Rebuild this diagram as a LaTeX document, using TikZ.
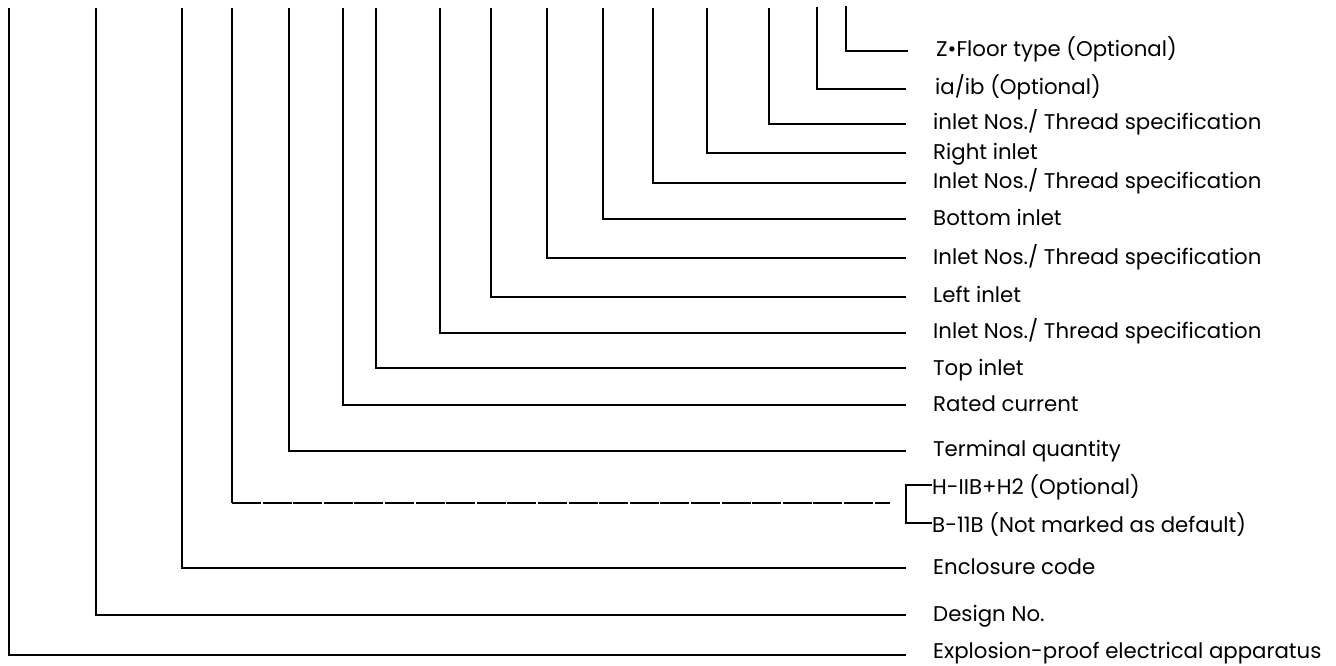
\documentclass[tikz,border=0pt]{standalone}
\usepackage{fontspec}
\setmainfont{Poppins}
\usetikzlibrary{calc}
\begin{document}
\begin{tikzpicture}[x=1pt,y=-1pt,
  lead/.style={line width=1.7pt,black},
  lbl/.style={anchor=base west,inner sep=0pt,font=\fontsize{21.3}{24}\selectfont}]
\useasboundingbox (0,0) rectangle (1336,666);
% labels
\node[lbl] (l16) at (936,57) {Z•Floor type (Optional)};
\node[lbl] (l15) at (935,95) {ia/ib (Optional)};
\node[lbl] (l14) at (933,130) {inlet Nos./ Thread specification};
\node[lbl] (l13) at (933,160) {Right inlet};
\node[lbl] (l12) at (933,189) {Inlet Nos./ Thread specification};
\node[lbl] (l11) at (933,225) {Bottom inlet};
\node[lbl] (l10) at (933,264) {Inlet Nos./ Thread specification};
\node[lbl] (l9) at (933,302) {Left inlet};
\node[lbl] (l8) at (933,338) {Inlet Nos./ Thread specification};
\node[lbl] (l7) at (933,375) {Top inlet};
\node[lbl] (l6) at (933,411) {Rated current};
\node[lbl] (l5) at (933,456) {Terminal quantity};
\node[lbl] (l4a) at (932,494.5) {H-IIB+H2 (Optional)};
\node[lbl] (l4b) at (932,532) {B-11B (Not marked as default)};
\node[lbl] (l3) at (933,574) {Enclosure code};
\node[lbl] (l2) at (933,621) {Design No.};
\node[lbl] (l1) at (933,658.5) {Explosion-proof electrical apparatus};
% top coordinates
\coordinate (t1) at (9,8);
\coordinate (t2) at (96,8);
\coordinate (t3) at (182,8);
\coordinate (t4) at (232,8);
\coordinate (t5) at (289,8);
\coordinate (t6) at (343,8);
\coordinate (t7) at (376,8);
\coordinate (t8) at (440,8);
\coordinate (t9) at (491,8);
\coordinate (t10) at (547,8);
\coordinate (t11) at (603,8);
\coordinate (t12) at (653,8);
\coordinate (t13) at (707,8);
\coordinate (t14) at (769,8);
\coordinate (t15) at (817,7);
\coordinate (t16) at (846,6);
% end coordinates
\coordinate (e16) at (908,51);
\coordinate (e15) at (906,89);
\coordinate (e14) at (906,124);
\coordinate (e13) at (906,153);
\coordinate (e12) at (906,183);
\coordinate (e11) at (906,219);
\coordinate (e10) at (906,258);
\coordinate (e9) at (906,297);
\coordinate (e8) at (906,333);
\coordinate (e7) at (906,368);
\coordinate (e6) at (906,405);
\coordinate (e5) at (906,451);
\coordinate (e3) at (906,568);
\coordinate (e2) at (906,615);
\coordinate (e1) at (906,655);
\foreach \i in {1,2,3,5,6,7,8,9,10,11,12,13,14,15,16}{
  \draw[lead] (t\i) |- (e\i);
}
% dashed branch
\coordinate (c4) at (232,503);
\coordinate (e4) at (890,503);
\draw[lead] (t4) -- (c4);
\draw[lead,dash pattern=on 29pt off 1.6pt] (c4) -- (e4);
% bracket
\coordinate (b1) at ($(l4a.base west)+(0,-9.5)$);
\coordinate (b2) at ($(l4b.base west)+(0,-9)$);
\draw[lead] (b1) -- ++(-26,0) |- (b2);
\end{tikzpicture}
\end{document}
